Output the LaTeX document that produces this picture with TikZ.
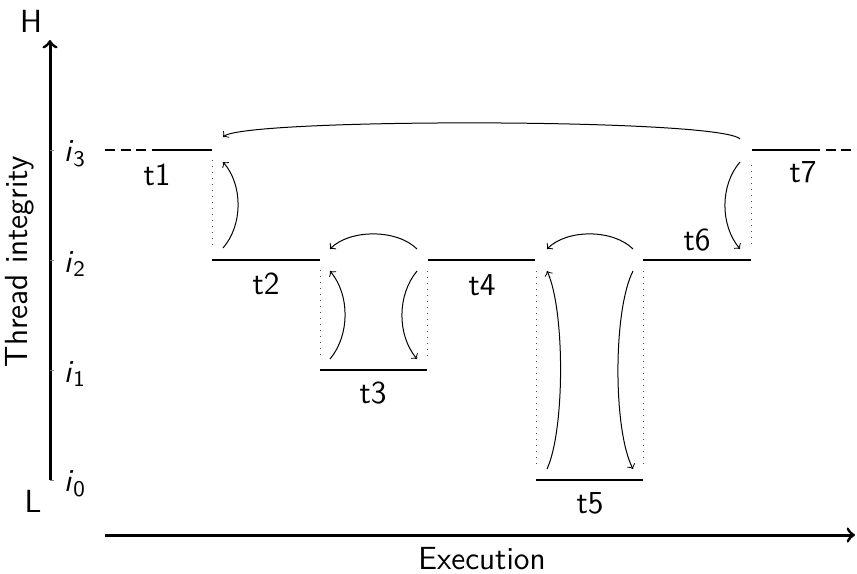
\documentclass[tikz,border=0pt]{standalone}
\begin{document}
\begin{tikzpicture}[x=0.4pt,y=-0.4pt,
  font=\sffamily\fontsize{12.8}{15}\selectfont,
  seg/.style={line width=1pt},
  dashseg/.style={line width=1pt,dash pattern=on 4pt off 2.2pt},
  axis/.style={line width=1.2pt,->},
  link/.style={line width=0.4pt,->},
  guide/.style={line width=0.4pt,dotted,black!70},
  tick/.style={line width=0.3pt,black!50},
  lbl/.style={inner sep=0pt}]
\useasboundingbox (0,0) rectangle (857,573);
% axes
\coordinate (yb) at (50,480); \coordinate (yt) at (50,40);
\coordinate (xl) at (105,535); \coordinate (xr) at (855,535);
\draw[axis] (yb) -- (yt);
\draw[axis] (xl) -- (xr);
\node[lbl] (H) at (31,21) {H};
\node[lbl] (L) at (33,501) {L};
\node[lbl,rotate=90] (ylab) at (20,262) {Thread integrity};
\node[lbl] (xlab) at (482,559) {Execution};
% level ticks and labels
\foreach \y/\n in {150/3,260/2,370/1,480/0}{
  \coordinate (tk\n a) at (50,\y); \coordinate (tk\n b) at (54,\y);
  \draw[tick] (tk\n a) -- (tk\n b);
  \node[lbl] (lev\n) at (75,\y+4) {\textit{i}\textsubscript{\n}};
}
% segments
\coordinate (s1a) at (105,150); \coordinate (s1b) at (157,150); \coordinate (s1c) at (212,150);
\coordinate (s2a) at (212,260); \coordinate (s2b) at (320,260);
\coordinate (s3a) at (320,370); \coordinate (s3b) at (427,370);
\coordinate (s4a) at (428,260); \coordinate (s4b) at (535,260);
\coordinate (s5a) at (536,480); \coordinate (s5b) at (643,480);
\coordinate (s6a) at (643,260); \coordinate (s6b) at (751,260);
\coordinate (s7a) at (752,150); \coordinate (s7b) at (810,150); \coordinate (s7c) at (857,150);
\draw[dashseg] (s1a) -- (s1b);
\draw[seg] (s1b) -- (s1c);
\draw[seg] (s2a) -- (s2b);
\draw[seg] (s3a) -- (s3b);
\draw[seg] (s4a) -- (s4b);
\draw[seg] (s5a) -- (s5b);
\draw[seg] (s6a) -- (s6b);
\draw[seg] (s7a) -- (s7b);
\draw[dashseg] (s7b) -- (s7c);
\node[lbl] (t1) at (157,175) {t1};
\node[lbl] (t2) at (266,284) {t2};
\node[lbl] (t3) at (373,393) {t3};
\node[lbl] (t4) at (482,285) {t4};
\node[lbl] (t5) at (590,503) {t5};
\node[lbl] (t6) at (697,240) {t6};
\node[lbl] (t7) at (803,172) {t7};
% dotted guides
\coordinate (g1a) at (212,160); \coordinate (g1b) at (212,245);
\coordinate (g2a) at (320,270); \coordinate (g2b) at (320,356);
\coordinate (g3a) at (427,271); \coordinate (g3b) at (427,359);
\coordinate (g4a) at (536,271); \coordinate (g4b) at (536,469);
\coordinate (g5a) at (643,271); \coordinate (g5b) at (643,469);
\coordinate (g6a) at (751,165); \coordinate (g6b) at (751,248);
\foreach \g in {1,...,6}{\draw[guide] (g\g a) -- (g\g b);}
% arrows
\coordinate (a2b) at (223,248); \coordinate (a2t) at (223,162);
\draw[link] (a2b) .. controls (243,225) and (243,185) .. (a2t);
\coordinate (a3lb) at (330,359); \coordinate (a3lt) at (330,271);
\draw[link] (a3lb) .. controls (350,335) and (350,295) .. (a3lt);
\coordinate (a3rt) at (417,271); \coordinate (a3rb) at (417,359);
\draw[link] (a3rt) .. controls (397,295) and (397,335) .. (a3rb);
\coordinate (a3hr) at (417,249); \coordinate (a3hl) at (330,249);
\draw[link] (a3hr) .. controls (397,229) and (350,229) .. (a3hl);
\coordinate (a5lb) at (547,469); \coordinate (a5lt) at (547,271);
\draw[link] (a5lb) .. controls (565,430) and (565,310) .. (a5lt);
\coordinate (a5rt) at (633,271); \coordinate (a5rb) at (633,469);
\draw[link] (a5rt) .. controls (613,310) and (613,430) .. (a5rb);
\coordinate (a5hr) at (633,249); \coordinate (a5hl) at (547,249);
\draw[link] (a5hr) .. controls (613,229) and (567,229) .. (a5hl);
\coordinate (a6t) at (740,162); \coordinate (a6b) at (740,249);
\draw[link] (a6t) .. controls (720,185) and (720,225) .. (a6b);
\coordinate (a7r) at (740,139); \coordinate (a7l) at (223,137);
\draw[link] (a7r) .. controls (720,118) and (245,118) .. (a7l);
\end{tikzpicture}
\end{document}
